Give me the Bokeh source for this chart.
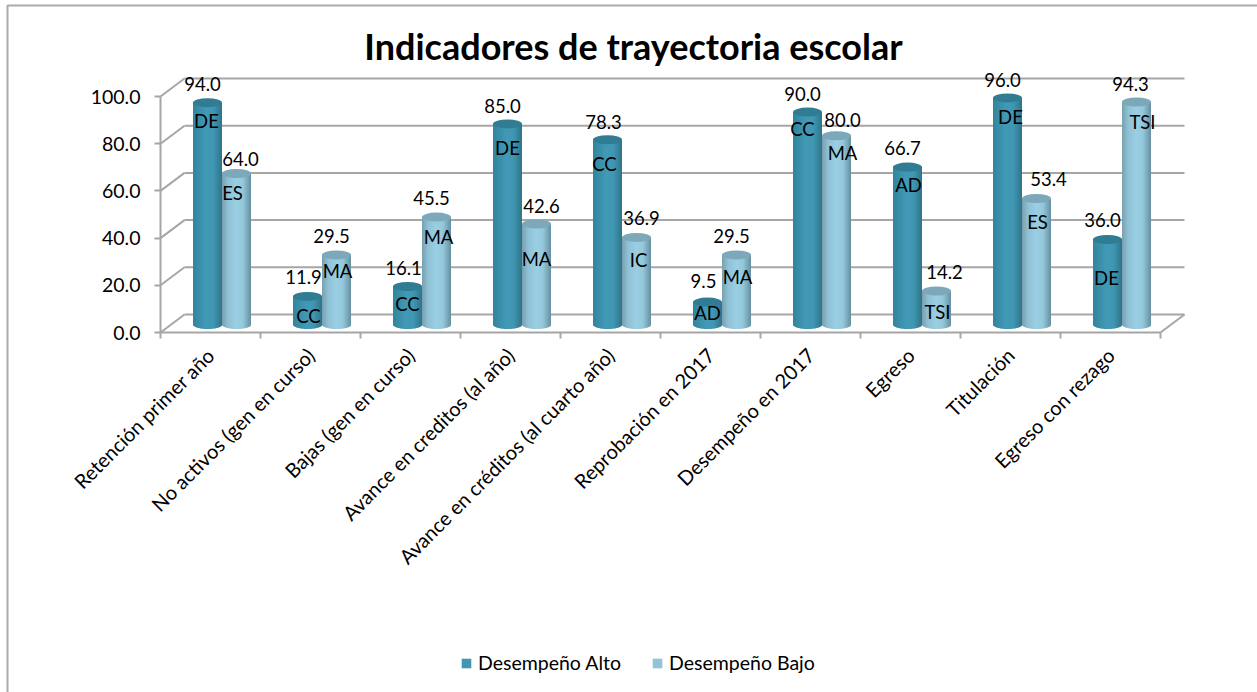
import math
from bokeh.plotting import figure
from bokeh.models import (Range1d, LinearAxis, FixedTicker, NumeralTickFormatter,
                          ColumnDataSource, Legend, LegendItem, Label)
from bokeh.core.properties import value
from bokeh.embed import file_html
from bokeh.resources import INLINE

# ---- data ----
categories = ["Retención primer año", "No activos (gen en curso)", "Bajas (gen en curso)",
              "Avance en creditos (al año)", "Avance en créditos (al cuarto año)",
              "Reprobación en 2017", "Desempeño en 2017", "Egreso", "Titulación",
              "Egreso con rezago"]
alto = [94.0, 11.9, 16.1, 85.0, 78.3, 9.5, 90.0, 66.7, 96.0, 36.0]
bajo = [64.0, 29.5, 45.5, 42.6, 36.9, 29.5, 80.0, 14.2, 53.4, 94.3]
alto_codes = ["DE", "CC", "CC", "DE", "CC", "AD", "CC", "AD", "DE", "DE"]
bajo_codes = ["ES", "MA", "MA", "MA", "IC", "MA", "MA", "TSI", "ES", "TSI"]
y_ticks = [0, 20, 40, 60, 80, 100]

# label nudges in screen pixels, relative to top centre of each cylinder
alto_val_dx = [-5, -4, -4, -5, -4, -4, -5, -5, -5, -5]
alto_val_dy = [-19, -19, -19, -18, -18, -21, -18, -19, -18, -20]
bajo_val_dx = [4, -5, -5, 5, 5, -5, 6, 8, 12, -6]
bajo_val_dy = [-14, -19, -19, -18, -19, -19, -16, -19, -19, -18]
alto_code_dx = [-1, 1, 0, 0, -3, 0, -5, 1, 3, -1]
alto_code_dy = [18, 20, 17, 24, 24, 11, 17, 18, 19, 38]
bajo_code_dx = [-4, 1, 2, 0, 2, 1, 6, 1, 1, 6]
bajo_code_dy = [20, 16, 20, 35, 23, 22, 17, 21, 24, 20]

# ---- geometry ----
W, H = 1257, 692
PX_X, PX_Y = 100.0, 2.36          # pixels per category / per value unit
X0, Y0 = 160, 332                 # pixel of the axes' origin
DEPTH_X, DEPTH_Y = 24 / PX_X, 18 / PX_Y
BAR_W = 29 / PX_X
BAR_SHIFT_Y = 8 / PX_Y
BAR_CX = 0.615
ELL_H = 9 / PX_Y
GREY = "#A6A6A6"
FONT = "Lato"

p = figure(width=W, height=H, output_backend="svg", toolbar_location=None,
           x_range=Range1d(-X0 / PX_X, (W - X0) / PX_X),
           y_range=Range1d((Y0 - H) / PX_Y, Y0 / PX_Y),
           x_axis_type=None, y_axis_type=None, min_border=0,
           margin=(0, 0, 0, 0), outline_line_color=None,
           background_fill_color="white", border_fill_color="white")
p.grid.visible = False

# chart-area frame (left and top edges)
xl, xr = (7 - X0) / PX_X, (W - X0) / PX_X
yt, yb = (Y0 - 5) / PX_Y, (Y0 - H) / PX_Y
p.line([xl, xl, xr], [yb, yt, yt], line_color="#ABABAB", line_width=2)

# 3-D walls
p.multi_line([[0, DEPTH_X] for _ in y_ticks], [[t, t + DEPTH_Y] for t in y_ticks],
             line_color=GREY, line_width=2)
n = len(categories)
p.multi_line([[DEPTH_X, n + DEPTH_X] for _ in y_ticks],
             [[t + DEPTH_Y, t + DEPTH_Y] for t in y_ticks],
             line_color=GREY, line_width=2)
p.line([n, n + DEPTH_X], [0, DEPTH_Y], line_color=GREY, line_width=2)


def hex2rgb(h):
    return [int(h[i:i + 2], 16) for i in (1, 3, 5)]


def ramp(stops, t):
    for (t0, c0), (t1, c1) in zip(stops, stops[1:]):
        if t <= t1:
            f = (t - t0) / (t1 - t0)
            a, b = hex2rgb(c0), hex2rgb(c1)
            return "#%02x%02x%02x" % tuple(round(a[i] + (b[i] - a[i]) * f) for i in range(3))
    return stops[-1][1]


ALTO_RAMP = [(0, "#33849D"), (0.12, "#358AA3"), (0.45, "#4299B6"), (0.7, "#4097B3"), (1, "#2E7488")]
BAJO_RAMP = [(0, "#7A9FAF"), (0.22, "#8FC2D7"), (0.5, "#99CEE3"), (0.72, "#94C8DC"), (1, "#66909F")]
STRIPS = 29
GAP = BAR_W / 2

# legend swatches: solid bars hidden behind the first pair of cylinders
r1 = p.quad(left=[BAR_CX - GAP - BAR_W / 4], right=[BAR_CX - GAP + BAR_W / 4],
            bottom=[BAR_SHIFT_Y], top=[alto[0]], fill_color="#4197B1", line_color=None)
r2 = p.quad(left=[BAR_CX + GAP - BAR_W / 4], right=[BAR_CX + GAP + BAR_W / 4],
            bottom=[BAR_SHIFT_Y], top=[bajo[0]], fill_color="#93C3D6", line_color=None)


def cylinders(vals, offset, stops, top_col):
    cols = {k: [] for k in ("left", "right", "top", "bottom", "color")}
    for i, v in enumerate(vals):
        cx = i + BAR_CX + offset
        for s in range(STRIPS):
            t0, t1 = s / STRIPS, (s + 1) / STRIPS
            tm = (t0 + t1) / 2
            u = 2 * tm - 1
            cols["left"].append(cx + (t0 - 0.5) * BAR_W)
            cols["right"].append(cx + (t1 - 0.5) * BAR_W + (0.004 if s < STRIPS - 1 else 0))
            cols["top"].append(v + BAR_SHIFT_Y)
            cols["bottom"].append(BAR_SHIFT_Y - ELL_H / 2 * math.sqrt(max(0, 1 - u * u)))
            cols["color"].append(ramp(stops, tm))
    p.quad(source=ColumnDataSource(cols), left="left", right="right", top="top", bottom="bottom",
           fill_color="color", line_color=None)
    p.ellipse(x=[i + BAR_CX + offset for i in range(n)], y=[v + BAR_SHIFT_Y for v in vals],
              width=BAR_W, height=ELL_H, fill_color=top_col, line_color=None)


cylinders(alto, -GAP, ALTO_RAMP, "#2F7C93")
cylinders(bajo, GAP, BAJO_RAMP, "#7DA8B9")


def labels(xoff, vals, texts, dx, dy):
    src = ColumnDataSource(dict(x=[i + BAR_CX + xoff for i in range(n)],
                                y=[v + BAR_SHIFT_Y for v in vals],
                                t=texts, dx=dx, dy=dy))
    p.text(x="x", y="y", text="t", x_offset="dx", y_offset="dy", source=src,
           text_font=value(FONT), text_font_size="18.5px", text_color="#000000",
           text_align="center", text_baseline="middle")


labels(-GAP, alto, [f"{v:.1f}" for v in alto], alto_val_dx, alto_val_dy)
labels(GAP, bajo, [f"{v:.1f}" for v in bajo], bajo_val_dx, bajo_val_dy)
labels(-GAP, alto, alto_codes, alto_code_dx, alto_code_dy)
labels(GAP, bajo, bajo_codes, bajo_code_dx, bajo_code_dy)

# axes
ya = LinearAxis(fixed_location=0, bounds=(0, 100), ticker=FixedTicker(ticks=y_ticks),
                formatter=NumeralTickFormatter(format="0.0"),
                axis_line_color=GREY, axis_line_width=2,
                major_tick_line_color=GREY, major_tick_line_width=2,
                major_tick_in=0, major_tick_out=6, minor_tick_line_color=None,
                major_label_standoff=14, major_label_text_font=FONT,
                major_label_text_font_size="19.5px", major_label_text_color="#000000")
p.add_layout(ya, "left")

xa = LinearAxis(fixed_location=0, bounds=(0, n), ticker=FixedTicker(ticks=list(range(n + 1))),
                axis_line_color=GREY, axis_line_width=2,
                major_tick_line_color=GREY, major_tick_line_width=2,
                major_tick_in=0, major_tick_out=6, minor_tick_line_color=None,
                major_label_text_font_size="0px", major_label_text_color=None)
p.add_layout(xa, "below")

centers = [i + 0.5 for i in range(n)]
xl2 = LinearAxis(fixed_location=0, ticker=FixedTicker(ticks=centers),
                 major_label_overrides=dict(zip(centers, categories)),
                 axis_line_color=None, major_tick_line_color=None, minor_tick_line_color=None,
                 major_label_orientation=math.pi / 4, major_label_standoff=13,
                 major_label_text_font=FONT, major_label_text_font_size="20px",
                 major_label_text_color="#000000")
p.add_layout(xl2, "below")

# title
p.add_layout(Label(x=(633 - X0) / PX_X, y=(Y0 - 45) / PX_Y, text="Indicadores de trayectoria escolar",
                   text_font=FONT, text_font_style="bold", text_font_size="36px",
                   text_color="#000000", text_align="center", text_baseline="middle"))

# legend
leg = Legend(items=[LegendItem(label="Desempeño Alto", renderers=[r1]),
                    LegendItem(label="Desempeño Bajo", renderers=[r2])],
             orientation="horizontal", location=(460, 18), border_line_color=None,
             background_fill_alpha=0, label_text_font=FONT, label_text_font_size="19.5px",
             label_text_color="#000000", glyph_width=12, glyph_height=12, spacing=30,
             label_standoff=6, margin=0, padding=0)
p.add_layout(leg, "center")

open("out.html", "w").write(file_html(p, INLINE))
